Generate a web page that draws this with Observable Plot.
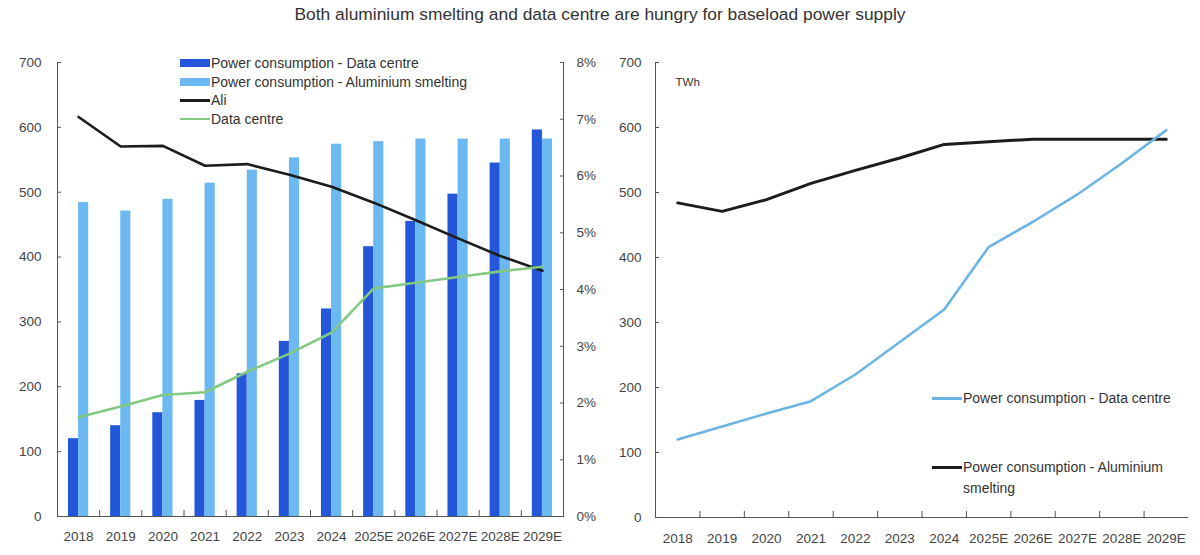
<!DOCTYPE html>
<html>
<head>
<meta charset="utf-8">
<script src="https://cdn.jsdelivr.net/npm/d3@7"></script>
<script src="https://cdn.jsdelivr.net/npm/@observablehq/plot@0.6"></script>
<style>
  html, body { margin: 0; padding: 0; background: #fff; }
  #root { position: relative; width: 1200px; height: 555px; overflow: hidden; }
  #title { position: absolute; left: 0; top: 0; width: 1200px; height: 28px; line-height: 28px; text-align: center; color: #333; }
  #charts { position: absolute; left: 0; top: 28px; display: flex; }
  .leg { position: absolute; color: #333; white-space: nowrap; }
  .leg .row { position: absolute; left: 0; display: flex; align-items: center; height: 18px; }
  .leg .sw { display: inline-block; width: 30px; margin-right: 1px; }
</style>
</head>
<body>
<div id="root">
  <div id="title">Both aluminium smelting and data centre are hungry for baseload power supply</div>
  <div id="charts"></div>
  <div class="leg" id="legL" style="left:180px; top:54px;"></div>
  <div class="leg" id="legR" style="left:932px; top:388px;"></div>
</div>
<script>
// ---- data ----
const years = ["2018","2019","2020","2021","2022","2023","2024","2025E","2026E","2027E","2028E","2029E"];
const dcPower = [120, 140, 160, 179, 220, 270, 320, 416, 455, 497, 545, 596];
const alPower = [484, 471, 489, 514, 534, 553, 574, 578, 582, 582, 582, 582];
const aliShare = [7.04, 6.52, 6.53, 6.18, 6.21, 6.02, 5.81, 5.53, 5.22, 4.90, 4.59, 4.33];
const dcShare = [1.75, 1.94, 2.14, 2.19, 2.55, 2.87, 3.24, 4.02, 4.12, 4.22, 4.32, 4.40];
const twhTicks = [0, 100, 200, 300, 400, 500, 600, 700];
const pctTicks = [0, 1, 2, 3, 4, 5, 6, 7, 8];

const legendLeft = [
  {label: "Power consumption - Data centre", color: "#2356d9", kind: "bar"},
  {label: "Power consumption - Aluminium smelting", color: "#6cb9f1", kind: "bar"},
  {label: "Ali", color: "#1c1c1c", kind: "line"},
  {label: "Data centre", color: "#82c982", kind: "line"}
];
const legendRight = [
  {label: "Power consumption - Data centre", color: "#6cb4e4"},
  {label: "Power consumption - Aluminium<br>smelting", color: "#1c1c1c"}
];

// ---- font selection ----
function hasFont(name) {
  const c = document.createElement("canvas").getContext("2d");
  const s = "Power consumption 2018 Wg";
  c.font = "16px monospace"; const a = c.measureText(s).width;
  c.font = `16px "${name}", monospace`; const b = c.measureText(s).width;
  return Math.abs(a - b) > 0.5;
}
const narrow = hasFont("Liberation Sans Narrow");
const FONT = narrow ? '"Liberation Sans Narrow", "Liberation Sans", sans-serif' : '"Liberation Sans", Arial, sans-serif';
const tickFS = narrow ? 16 : 13.5;
const legFS = narrow ? 16.5 : 14;
const titleFS = narrow ? 20.5 : 17.4;

document.getElementById("title").style.fontFamily = FONT;
document.getElementById("title").style.fontSize = titleFS + "px";

const rows = years.map((year, i) => ({i, year, dc: dcPower[i], al: alPower[i], ali: aliShare[i], dcs: dcShare[i]}));
const k = 700 / 8; // percent -> TWh scale factor for secondary axis
const idx = years.map((_, i) => i);
const bounds = d3.range(0.5, years.length - 1, 1);
const barW = 0.24;
const axisColor = "#555";

const left = Plot.plot({
  width: 610, height: 527,
  marginLeft: 57, marginRight: 47, marginTop: 34, marginBottom: 39,
  style: {fontFamily: FONT, fontSize: tickFS + "px", color: "#444", background: "white", overflow: "visible"},
  x: {type: "linear", domain: [-0.5, years.length - 0.5], axis: null, label: null},
  y: {domain: [0, 700], axis: null, label: null},
  marks: [
    Plot.rect(rows, {x1: d => d.i - barW, x2: d => d.i, y1: 0, y2: "dc", fill: "#2356d9"}),
    Plot.rect(rows, {x1: d => d.i, x2: d => d.i + barW, y1: 0, y2: "al", fill: "#6cb9f1"}),
    Plot.line(rows, {x: "i", y: d => d.ali * k, stroke: "#1c1c1c", strokeWidth: 2.6}),
    Plot.line(rows, {x: "i", y: d => d.dcs * k, stroke: "#82c982", strokeWidth: 2.6}),
    Plot.ruleY([0], {stroke: axisColor}),
    Plot.ruleX([-0.5, years.length - 0.5], {stroke: axisColor}),
    Plot.axisY(twhTicks, {anchor: "left", tickSize: 0, tickPadding: 16, label: null}),
    Plot.axisY(twhTicks, {anchor: "left", tickSize: 4, dx: 4, tickFormat: () => "", stroke: axisColor, label: null}),
    Plot.axisY(pctTicks.map(p => p * k), {anchor: "right", tickSize: 0, tickPadding: 13, tickFormat: v => Math.round(v / k) + "%", label: null}),
    Plot.axisY(pctTicks.map(p => p * k), {anchor: "right", tickSize: 4, dx: -4, tickFormat: () => "", stroke: axisColor, label: null}),
    Plot.axisX(idx, {anchor: "bottom", tickSize: 0, tickPadding: 15, tickFormat: i => years[i], label: null}),
    Plot.axisX(bounds, {anchor: "bottom", tickSize: 6, dy: -6, tickFormat: () => "", stroke: axisColor, label: null})
  ]
});

const right = Plot.plot({
  width: 590, height: 527,
  marginLeft: 45, marginRight: 12, marginTop: 34, marginBottom: 38,
  style: {fontFamily: FONT, fontSize: tickFS + "px", color: "#444", background: "white", overflow: "visible"},
  x: {type: "linear", domain: [-0.5, years.length - 0.5], axis: null, label: null},
  y: {domain: [0, 700], axis: null, label: null},
  marks: [
    Plot.line(rows, {x: "i", y: "al", stroke: "#1c1c1c", strokeWidth: 3}),
    Plot.line(rows, {x: "i", y: "dc", stroke: "#6cb4e4", strokeWidth: 2.6}),
    Plot.ruleY([0], {stroke: axisColor}),
    Plot.ruleX([-0.5], {stroke: axisColor}),
    Plot.text(["TWh"], {frameAnchor: "top-left", dx: 20, dy: 15, fontSize: (tickFS - 2) + "px", fill: "#333"}),
    Plot.axisY(twhTicks, {anchor: "left", tickSize: 0, tickPadding: 14, label: null}),
    Plot.axisY(twhTicks, {anchor: "left", tickSize: 4, dx: 4, tickFormat: () => "", stroke: axisColor, label: null}),
    Plot.axisX(idx, {anchor: "bottom", tickSize: 0, tickPadding: 16, tickFormat: i => years[i], label: null}),
    Plot.axisX(bounds, {anchor: "bottom", tickSize: 6, dy: -6, tickFormat: () => "", stroke: axisColor, label: null})
  ]
});

const charts = document.getElementById("charts");
charts.appendChild(left);
charts.appendChild(right);

// ---- legends ----
const legL = document.getElementById("legL");
legL.style.fontFamily = FONT; legL.style.fontSize = legFS + "px";
legendLeft.forEach((d, j) => {
  const row = document.createElement("div");
  row.className = "row";
  row.style.top = (j * 18.7) + "px";
  const sw = document.createElement("span");
  sw.className = "sw";
  sw.style.background = d.color;
  sw.style.height = d.kind === "bar" ? "8px" : (j === 2 ? "3px" : "2px");
  row.appendChild(sw);
  const t = document.createElement("span");
  t.textContent = d.label;
  row.appendChild(t);
  legL.appendChild(row);
});

const legR = document.getElementById("legR");
legR.style.fontFamily = FONT; legR.style.fontSize = legFS + "px";
legendRight.forEach((d, j) => {
  const row = document.createElement("div");
  row.style.position = "absolute";
  row.style.left = "0px";
  row.style.top = (j * 69) + "px";
  row.style.lineHeight = "21px";
  const sw = document.createElement("span");
  sw.style.position = "absolute";
  sw.style.left = "0px"; sw.style.top = "9px";
  sw.style.width = "30px"; sw.style.height = "3px";
  sw.style.background = d.color;
  row.appendChild(sw);
  const t = document.createElement("div");
  t.style.marginLeft = "31px";
  t.innerHTML = d.label;
  row.appendChild(t);
  legR.appendChild(row);
});
</script>
</body>
</html>
